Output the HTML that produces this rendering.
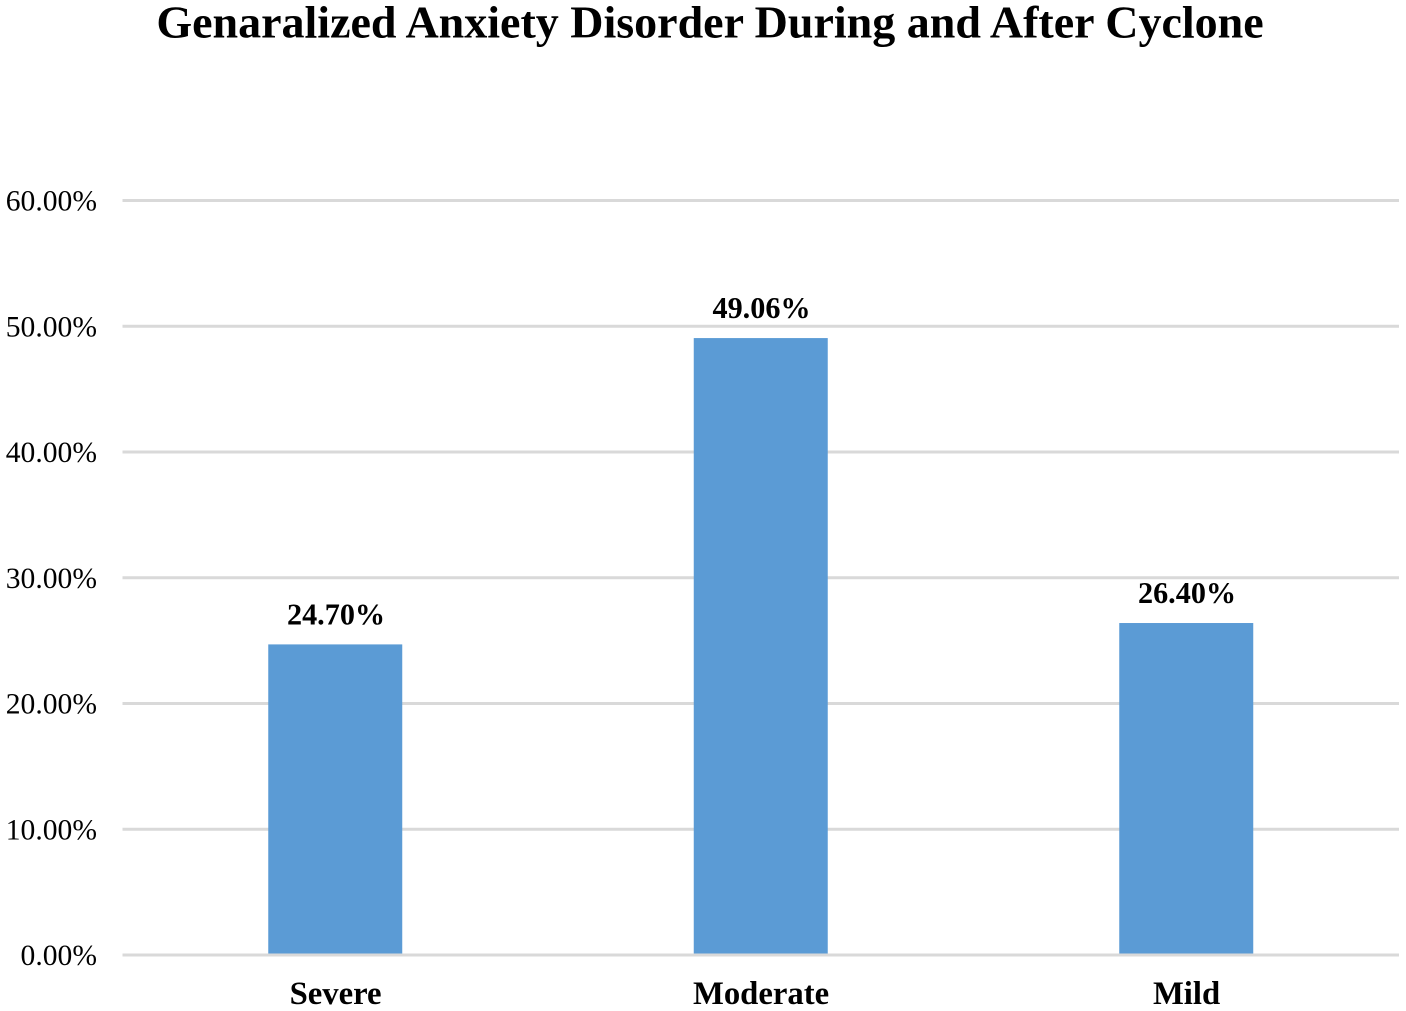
<!DOCTYPE html>
<html lang="en">
<head>
<meta charset="utf-8">
<title>Generalized Anxiety Disorder Chart</title>
<style>
  html, body { margin: 0; padding: 0; background: #fff; }
  body { width: 1406px; height: 1011px; overflow: hidden; }
  svg { display: block; font-family: "Liberation Serif", serif; }
</style>
</head>
<body>
<svg id="chart" width="1406" height="1011" viewBox="0 0 1406 1011" xmlns="http://www.w3.org/2000/svg">
  <text x="710" y="37.5" text-anchor="middle" font-size="46" font-weight="bold" fill="#000">Genaralized Anxiety Disorder During and After Cyclone</text>
  <g id="grid"></g>
  <g id="bars"></g>
  <g id="labels"></g>
</svg>
<script>
const categories = ["Severe", "Moderate", "Mild"];
const seriesValues = [24.70, 49.06, 26.40];
const valueLabels = ["24.70%", "49.06%", "26.40%"];
const tickValues = [0, 10, 20, 30, 40, 50, 60];
const tickLabels = ["0.00%", "10.00%", "20.00%", "30.00%", "40.00%", "50.00%", "60.00%"];

const NS = "http://www.w3.org/2000/svg";
const plotLeft = 122.5, plotRight = 1399, plotTop = 200.5, plotBottom = 955;
const axisMax = 60, barWidth = 134, gridWidth = 3;

function yScale(v) { return plotBottom - (v / axisMax) * (plotBottom - plotTop); }
function xScale(i) { return plotLeft + (i + 0.5) * (plotRight - plotLeft) / categories.length; }

const grid = document.getElementById("grid");
const bars = document.getElementById("bars");
const labels = document.getElementById("labels");

tickValues.forEach(function (t, i) {
  const line = document.createElementNS(NS, "line");
  
  
  line.setAttribute("x1", plotLeft);
  line.setAttribute("x2", plotRight);
  line.setAttribute("y1", yScale(t));
  line.setAttribute("y2", yScale(t));
  line.setAttribute("stroke", "#d9d9d9");
  line.setAttribute("stroke-width", gridWidth);
  grid.appendChild(line);

  const label = document.createElementNS(NS, "text");
  
  
  label.setAttribute("x", 97);
  label.setAttribute("y", yScale(t) + 10);
  label.setAttribute("text-anchor", "end");
  label.setAttribute("font-size", "29.6");
  label.setAttribute("fill", "#000");
  label.textContent = tickLabels[i];
  labels.appendChild(label);
});

categories.forEach(function (c, i) {
  const cx = xScale(i);
  const y = yScale(seriesValues[i]);
  const barBottom = plotBottom - gridWidth / 2;

  const rect = document.createElementNS(NS, "rect");
  
  
  rect.setAttribute("x", cx - barWidth / 2);
  rect.setAttribute("y", y);
  rect.setAttribute("width", barWidth);
  rect.setAttribute("height", barBottom - y);
  rect.setAttribute("fill", "#5b9bd5");
  bars.appendChild(rect);

  const value = document.createElementNS(NS, "text");
  
  
  value.setAttribute("x", cx + 0.8);
  value.setAttribute("y", y - 20);
  value.setAttribute("text-anchor", "middle");
  value.setAttribute("font-size", "30.2");
  value.setAttribute("font-weight", "bold");
  value.setAttribute("fill", "#000");
  value.textContent = valueLabels[i];
  labels.appendChild(value);

  const cat = document.createElementNS(NS, "text");
  
  
  cat.setAttribute("x", cx + 0.3);
  cat.setAttribute("y", 1004);
  cat.setAttribute("text-anchor", "middle");
  cat.setAttribute("font-size", "32.7");
  cat.setAttribute("font-weight", "bold");
  cat.setAttribute("fill", "#000");
  cat.textContent = c;
  labels.appendChild(cat);
});
</script>
</body>
</html>
